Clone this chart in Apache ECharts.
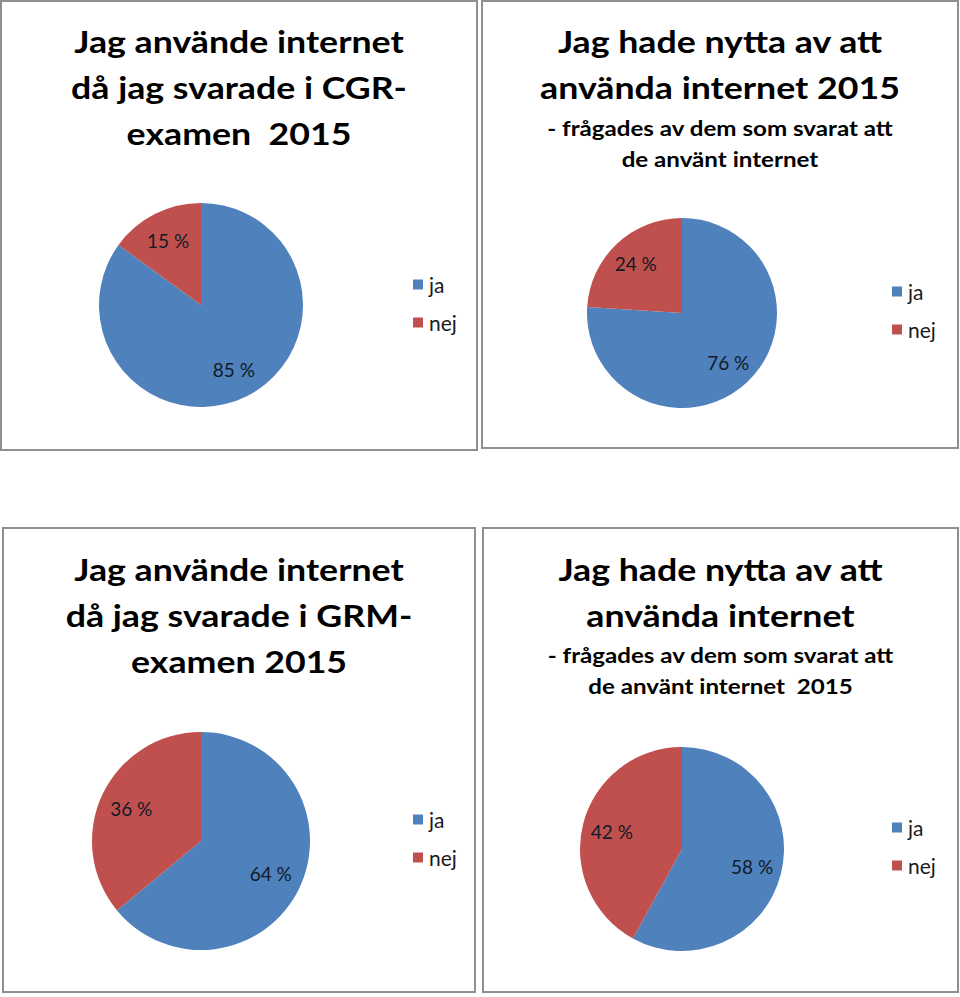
<!DOCTYPE html>
<html>
<head>
<meta charset="utf-8">
<script src="https://cdn.jsdelivr.net/npm/echarts@6/dist/echarts.min.js"></script>
<style>
html,body{margin:0;padding:0;background:#fff;}
#chart{width:960px;height:997px;}
</style>
</head>
<body>
<div id="chart"></div>
<script>
// ---- data ----
const categories = ['ja', 'nej'];
const cgrValues = [85, 15];
const nyttaValues = [76, 24];
const grmValues = [64, 36];
const nytta2Values = [58, 42];

const titleCgr = ['Jag använde internet', 'då jag svarade i CGR-', 'examen  2015'];
const titleNytta = ['Jag hade nytta av att', 'använda internet 2015'];
const subNytta = ['- frågades av dem som svarat att', 'de använt internet'];
const titleGrm = ['Jag använde internet', 'då jag svarade i GRM-', 'examen 2015'];
const titleNytta2 = ['Jag hade nytta av att', 'använda internet'];
const subNytta2 = ['- frågades av dem som svarat att', 'de använt internet  2015'];

const colors = ['#4F81BD', '#C0504D'];
const FONT = 'Lato, "Open Sans", sans-serif';

const panels = [
  { values: cgrValues, center: [201, 305], r: 102, legend: [413, 274],
    box: [1, 1, 476, 449], title: titleCgr, titleY: 41, sub: null, subY: 0 },
  { values: nyttaValues, center: [682, 313], r: 95, legend: [892, 281],
    box: [482, 1, 476, 447], title: titleNytta, titleY: 41, sub: subNytta, subY: 128 },
  { values: grmValues, center: [201, 841], r: 109, legend: [413, 809],
    box: [3, 528, 472, 464], title: titleGrm, titleY: 569, sub: null, subY: 0 },
  { values: nytta2Values, center: [682, 849], r: 102, legend: [892, 817],
    box: [483, 528, 475, 464], title: titleNytta2, titleY: 569, sub: subNytta2, subY: 655 }
];

const series = [];
const legends = [];
const graphics = [];

panels.forEach((p, i) => {
  const data = categories.map((c, k) => ({ name: c, value: p.values[k], itemStyle: { color: colors[k] } }));
  series.push({
    type: 'pie', name: 'pie' + i, center: p.center, radius: p.r,
    startAngle: 90, clockwise: true, silent: true, animation: false,
    label: { show: false }, labelLine: { show: false },
    itemStyle: { borderWidth: 0 },
    data: data
  });
  // label overlay: transparent ring so that inside labels sit at ~0.68 r
  series.push({
    type: 'pie', name: 'lab' + i, center: p.center, radius: [p.r * 0.36, p.r],
    startAngle: 90, clockwise: true, silent: true, animation: false,
    legendHoverLink: false,
    itemStyle: { color: 'rgba(0,0,0,0)', borderWidth: 0 },
    label: { show: true, position: 'inside', formatter: '{c} %', color: '#111a26',
             fontFamily: FONT, fontSize: 19 },
    labelLine: { show: false },
    data: categories.map((c, k) => ({ name: c, value: p.values[k] }))
  });
  legends.push({
    orient: 'vertical', left: p.legend[0], top: p.legend[1], padding: 0,
    itemWidth: 10, itemHeight: 10, itemGap: 17, icon: 'rect', selectedMode: false,
    textStyle: { fontFamily: FONT, fontSize: 21, color: '#1a1a1a', padding: [0, 0, 0, 1] },
    data: categories.map((c, k) => ({ name: c, itemStyle: { color: colors[k] } }))
  });
  graphics.push({
    type: 'rect', shape: { x: p.box[0], y: p.box[1], width: p.box[2], height: p.box[3] },
    style: { fill: 'none', stroke: '#8f8f8f', lineWidth: 2 }, silent: true
  });
  const cx = p.box[0] + p.box[2] / 2;
  p.title.forEach((line, j) => {
    graphics.push({
      type: 'text', x: cx, y: p.titleY + j * 46, scaleX: 1.19,
      style: { text: line, textAlign: 'center', textVerticalAlign: 'middle',
               font: 'bold 30px ' + FONT, fill: '#000' }, silent: true
    });
  });
  if (p.sub) {
    p.sub.forEach((line, j) => {
      graphics.push({
        type: 'text', x: cx, y: p.subY + j * 31, scaleX: 1.15,
        style: { text: line, textAlign: 'center', textVerticalAlign: 'middle',
                 font: 'bold 21px ' + FONT, fill: '#000' }, silent: true
      });
    });
  }
});

const chart = echarts.init(document.getElementById('chart'), null, { renderer: 'svg', width: 960, height: 997 });
chart.setOption({
  backgroundColor: '#fff',
  animation: false,
  legend: legends,
  series: series,
  graphic: graphics
});
</script>
</body>
</html>
